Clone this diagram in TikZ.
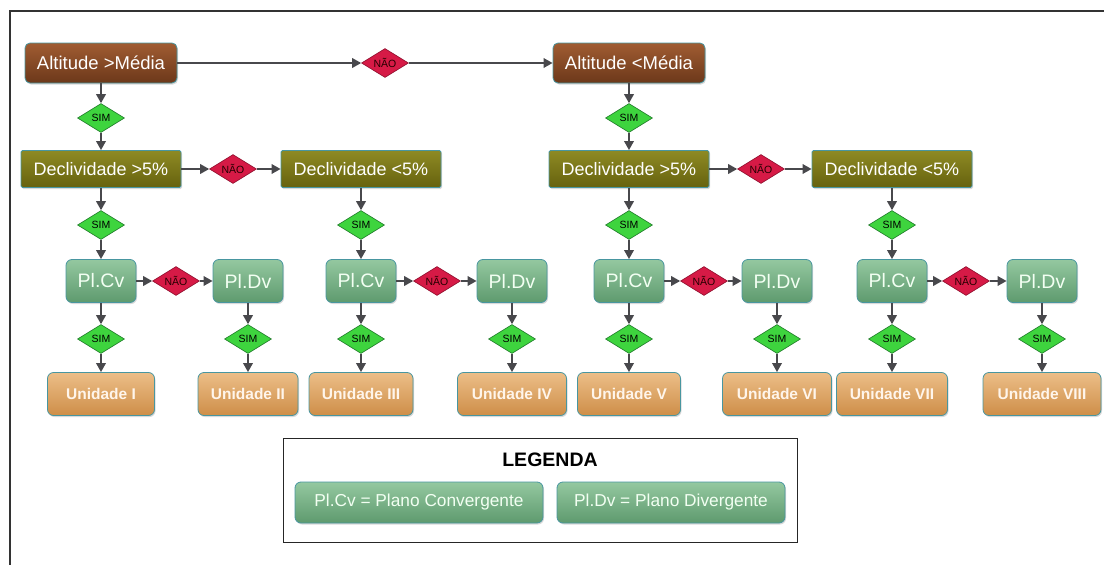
\documentclass[tikz,border=0pt]{standalone}
\usepackage{fontspec}
\setmainfont{Liberation Sans}
\usepackage{xcolor}
\usepackage{tikz}
\usetikzlibrary{arrows.meta,positioning,shapes.geometric,shadows}

\definecolor{bordaC}{RGB}{72,150,160}
\definecolor{setaC}{RGB}{72,72,76}
\definecolor{marromT}{RGB}{160,92,50}
\definecolor{marromB}{RGB}{108,56,26}
\definecolor{olivaT}{RGB}{142,138,36}
\definecolor{olivaB}{RGB}{102,98,14}
\definecolor{verdeT}{RGB}{148,200,160}
\definecolor{verdeB}{RGB}{94,154,110}
\definecolor{laranjaT}{RGB}{236,190,136}
\definecolor{laranjaB}{RGB}{206,142,72}
\definecolor{simC}{RGB}{62,212,62}
\definecolor{simB}{RGB}{30,120,40}
\definecolor{naoC}{RGB}{214,26,70}
\definecolor{naoB}{RGB}{140,14,44}

\begin{document}
\begin{tikzpicture}[x=1pt, y=-1pt,
  sombra/.style={drop shadow={opacity=0.3, shadow xshift=1pt, shadow yshift=-1.5pt}},
  altbox/.style={rectangle, rounded corners=5pt, draw=bordaC, line width=0.8pt,
    top color=marromT, bottom color=marromB, text=white, sombra,
    minimum width=152pt, minimum height=40pt, font=\fontsize{18.5}{21}\selectfont},
  decbox/.style={rectangle, rounded corners=1.5pt, draw=bordaC, line width=0.8pt,
    top color=olivaT, bottom color=olivaB, text=white, sombra,
    minimum width=160pt, minimum height=37pt, font=\fontsize{18}{21}\selectfont},
  plbox/.style={rectangle, rounded corners=6pt, draw=bordaC, line width=0.8pt,
    top color=verdeT, bottom color=verdeB, text=white!95!green, sombra,
    minimum width=70pt, minimum height=43pt, font=\fontsize{19.5}{22}\selectfont},
  unidbox/.style={rectangle, rounded corners=6pt, draw=bordaC, line width=0.8pt,
    top color=laranjaT, bottom color=laranjaB, text=white!92!orange, sombra,
    minimum height=43pt, font=\fontsize{15.5}{18}\selectfont\bfseries},
  legbox/.style={plbox, minimum height=41pt, font=\fontsize{17.3}{20}\selectfont},
  sim/.style={diamond, aspect=1.65, draw=simB, line width=0.6pt, fill=simC,
    inner sep=0.5pt, minimum width=47pt, minimum height=29pt,
    font=\fontsize{10.5}{11}\selectfont},
  nao/.style={sim, draw=naoB, fill=naoC, text=black!85!red},
  seta/.style={-{Triangle[length=9pt,width=9.5pt]}, draw=setaC, line width=1.8pt}]

  \useasboundingbox (0,0) rectangle (1104,565);
  \draw[line width=1.5pt, black!80] (10,565) -- (10,11) -- (1104,11);

  % altitude
  \node[altbox] (alt1) at (101,63) {Altitude >Média};
  \node[nao] (naoA) at (385,63) {NÃO};
  \node[altbox] (alt2) at (629,63) {Altitude <Média};
  \node[sim] (simA1) at (101,118) {SIM};
  \node[sim] (simA2) at (629,118) {SIM};
  \draw[seta] (alt1) -- (naoA);
  \draw[seta] (naoA) -- (alt2);
  \draw[seta] (alt1) -- (simA1);
  \draw[seta] (alt2) -- (simA2);

  % declividade
  \node[decbox] (dec1) at (101,169) {Declividade >5\%};
  \node[nao] (naoD1) at (233,169) {NÃO};
  \node[decbox] (dec2) at (361,169) {Declividade <5\%};
  \node[decbox] (dec3) at (629,169) {Declividade >5\%};
  \node[nao] (naoD2) at (761,169) {NÃO};
  \node[decbox] (dec4) at (892,169) {Declividade <5\%};
  \draw[seta] (simA1) -- (dec1);
  \draw[seta] (simA2) -- (dec3);
  \draw[seta] (dec1) -- (naoD1);
  \draw[seta] (naoD1) -- (dec2);
  \draw[seta] (dec3) -- (naoD2);
  \draw[seta] (naoD2) -- (dec4);

  % planos e unidades
  \foreach \i/\xc/\xn/\xd/\ra/\rb/\wa/\wb in
      {1/101/176/248/I/II/107/100, 2/361/437/512/III/IV/104/109,
       3/629/704/777/V/VI/103/109, 4/892/966/1042/VII/VIII/111/118} {
    \node[sim] (simD\i) at (\xc,225) {SIM};
    \node[plbox] (cv\i) at (\xc,281) {Pl.Cv};
    \node[nao] (naoP\i) at (\xn,281) {NÃO};
    \node[plbox] (dv\i) at (\xd,281) {Pl.Dv};
    \node[sim] (simC\i) at (\xc,339) {SIM};
    \node[sim] (simV\i) at (\xd,339) {SIM};
    \node[unidbox, minimum width=\wa pt] (ua\i) at (\xc,394) {Unidade \ra};
    \node[unidbox, minimum width=\wb pt] (ub\i) at (\xd,394) {Unidade \rb};
    \draw[seta] (dec\i) -- (simD\i);
    \draw[seta] (simD\i) -- (cv\i);
    \draw[seta] (cv\i) -- (naoP\i);
    \draw[seta] (naoP\i) -- (dv\i);
    \draw[seta] (cv\i) -- (simC\i);
    \draw[seta] (dv\i) -- (simV\i);
    \draw[seta] (simC\i) -- (ua\i);
    \draw[seta] (simV\i) -- (ub\i);
  }

  % legenda
  \node[draw=black!85, line width=1pt, minimum width=514pt, minimum height=104pt]
    (leg) at (540,490) {};
  \node[font=\fontsize{19.5}{22}\selectfont\bfseries] (legtit) at (550,460) {LEGENDA};
  \node[legbox, minimum width=248pt] (legcv) at (419,502.5) {Pl.Cv = Plano Convergente};
  \node[legbox, minimum width=228pt] (legdv) at (671,502.5) {Pl.Dv = Plano Divergente};
\end{tikzpicture}
\end{document}
